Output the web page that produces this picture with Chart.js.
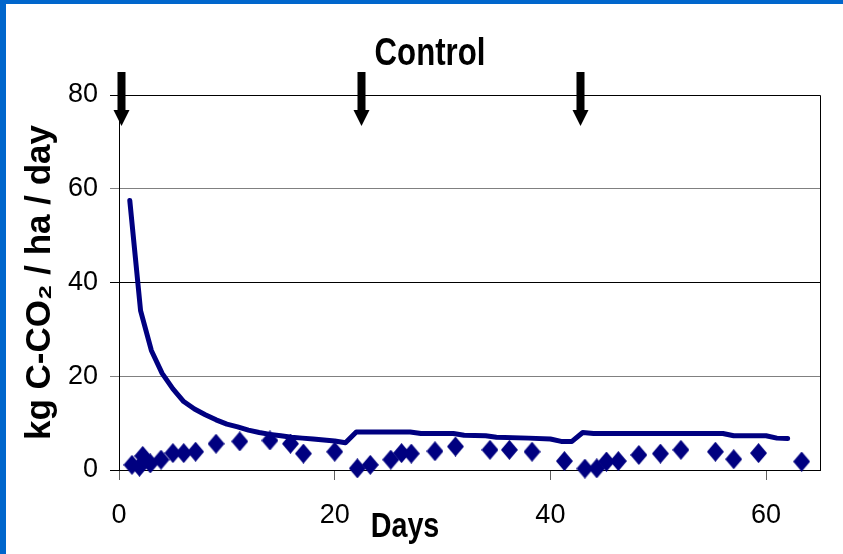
<!DOCTYPE html>
<html>
<head>
<meta charset="utf-8">
<script src="https://cdn.jsdelivr.net/npm/chart.js@4.4.1/dist/chart.umd.min.js"></script>
<style>
  html, body { margin: 0; padding: 0; background: #ffffff; }
  #frame {
    position: absolute; left: 0; top: 0; width: 843px; height: 554px;
    box-sizing: border-box; border-left: 6px solid #0066cc; border-top: 4px solid #0066cc;
    background: #ffffff;
  }
  canvas { display: block; }
</style>
</head>
<body>
<div id="frame"><canvas id="c" width="837" height="550"></canvas></div>
<script>
// ---- data ----
const chartTitle = 'Control';
const xAxisTitle = 'Days';
const yAxisTitle = 'kg C-CO\u2082 / ha / day';

const xTickValues = [0, 20, 40, 60];
const yTickValues = [0, 20, 40, 60, 80];

// modelled flux (line)
const modelDays   = [1, 2, 3, 4, 5, 6, 7, 8, 9, 10, 11, 12, 13, 14, 15, 16, 17, 18, 19, 20, 21, 22, 27, 28, 31, 32, 34, 35, 38, 40, 41, 42, 43, 44, 56, 57, 60, 61, 62];
const modelValues = [57.5, 34, 25.5, 20.6, 17.3, 14.6, 13.0, 11.8, 10.7, 9.8, 9.2, 8.5, 8.0, 7.6, 7.3, 7.0, 6.8, 6.6, 6.4, 6.2, 5.8, 8.1, 8.1, 7.8, 7.8, 7.4, 7.3, 7.0, 6.8, 6.6, 6.1, 6.1, 8.0, 7.8, 7.8, 7.3, 7.3, 6.8, 6.7];

// measured flux (diamonds)
const obsDays   = [1.2, 1.9, 2.2, 2.9, 3.9, 5.0, 6.0, 7.1, 9.0, 11.2, 14.0, 15.9, 17.1, 20.0, 22.1, 23.3, 25.2, 26.2, 27.1, 29.3, 31.2, 34.4, 36.2, 38.3, 41.3, 43.2, 44.3, 45.2, 46.3, 48.2, 50.2, 52.1, 55.3, 57.0, 59.3, 63.3];
const obsValues = [1.1, 0.7, 3.0, 1.4, 2.2, 3.6, 3.6, 3.9, 5.6, 6.1, 6.3, 5.6, 3.5, 3.9, 0.35, 1.1, 2.2, 3.6, 3.5, 4.0, 5.0, 4.3, 4.3, 3.9, 1.9, 0.3, 0.35, 1.8, 1.9, 3.2, 3.5, 4.3, 3.9, 2.3, 3.6, 1.8];

// days on which amendments were applied (arrows)
const arrowDays = [0.2, 22.4, 42.7];

// ---- styling ----
const NAVY = '#000080';
const sans = "'Liberation Sans', Arial, sans-serif";

// diamond marker (slightly taller than wide, as in the reference)
const marker = document.createElement('canvas');
marker.width = 17; marker.height = 20;
(function () {
  const m = marker.getContext('2d');
  m.fillStyle = NAVY;
  m.beginPath();
  m.moveTo(8.5, 0); m.lineTo(17, 10); m.lineTo(8.5, 20); m.lineTo(0, 10);
  m.closePath(); m.fill();
})();

function narrowText(ctx, text, cx, baseline, font) {
  ctx.save();
  ctx.translate(cx, baseline);
  ctx.scale(0.82, 1);
  ctx.font = font;
  ctx.textAlign = 'center';
  ctx.textBaseline = 'alphabetic';
  ctx.fillText(text, 0, 0);
  ctx.restore();
}

const extras = {
  id: 'extras',
  afterDatasetsDraw(chart) {
    const {ctx, chartArea: a, scales: {x, y}} = chart;
    ctx.save();
    // plot frame (top / right)
    ctx.strokeStyle = '#000000';
    ctx.lineWidth = 1;
    ctx.beginPath();
    ctx.moveTo(a.left, a.top + 0.5); ctx.lineTo(a.right + 0.5, a.top + 0.5);
    ctx.lineTo(a.right + 0.5, a.bottom);
    ctx.stroke();
    // arrows
    ctx.fillStyle = '#000000';
    const top80 = y.getPixelForValue(80);
    arrowDays.forEach(d => {
      const px = Math.round(x.getPixelForValue(d)) + 0.5;
      const sTop = top80 - 23, headTop = top80 + 15, tip = top80 + 31;
      ctx.fillRect(px - 4, sTop, 8, headTop - sTop + 1);
      ctx.beginPath();
      ctx.moveTo(px - 8, headTop); ctx.lineTo(px + 8, headTop); ctx.lineTo(px, tip);
      ctx.closePath(); ctx.fill();
    });
    ctx.fillStyle = '#000000';
    // chart title
    narrowText(ctx, chartTitle, 424, 61, 'bold 38px ' + sans);
    // x axis title
    narrowText(ctx, xAxisTitle, 399, 533, 'bold 35px ' + sans);
    ctx.restore();
  }
};

new Chart(document.getElementById('c'), {
  type: 'scatter',
  data: {
    datasets: [
      {
        label: 'Model',
        data: modelDays.map((d, i) => ({x: d, y: modelValues[i]})),
        showLine: true,
        borderColor: NAVY,
        backgroundColor: NAVY,
        borderWidth: 5,
        borderCapStyle: 'round',
        borderJoinStyle: 'round',
        pointRadius: 0,
        pointHoverRadius: 0,
        tension: 0,
        clip: false,
        order: 2
      },
      {
        label: 'Measured',
        data: obsDays.map((d, i) => ({x: d, y: obsValues[i]})),
        showLine: false,
        pointStyle: marker,
        pointRadius: 10,
        backgroundColor: NAVY,
        borderColor: NAVY,
        clip: false,
        order: 1
      }
    ]
  },
  options: {
    responsive: false,
    animation: false,
    devicePixelRatio: 1,
    layout: { padding: { left: 0, right: 23, top: 91, bottom: 0 } },
    plugins: { legend: { display: false }, tooltip: { enabled: false }, title: { display: false } },
    scales: {
      x: {
        type: 'linear',
        min: 0, max: 65,
        afterBuildTicks: axis => { axis.ticks = xTickValues.map(v => ({value: v})); },
        afterFit: s => { s.height = 84; },
        grid: { drawOnChartArea: false, drawTicks: true, tickLength: 10, tickColor: '#606060' },
        border: { display: true, color: '#000000', width: 1 },
        ticks: { color: '#000000', padding: 19, maxRotation: 0, font: { family: sans, size: 27 } },
        title: { display: false }
      },
      y: {
        type: 'linear',
        min: 0, max: 80,
        afterBuildTicks: axis => { axis.ticks = yTickValues.map(v => ({value: v})); },
        afterFit: s => { s.width = 113; },
        grid: {
          drawTicks: true, tickLength: 9,
          color: c => (c.tick && (c.tick.value === 20 || c.tick.value === 60)) ? '#808080' : '#000000',
          tickColor: c => (c.tick && (c.tick.value === 20 || c.tick.value === 60)) ? '#808080' : '#000000',
          lineWidth: 1
        },
        border: { display: true, color: '#000000', width: 1 },
        ticks: { color: '#000000', padding: 12, font: { family: sans, size: 27 } },
        title: {
          display: true, text: yAxisTitle, color: '#000000',
          font: { family: sans, size: 35, weight: 'bold' },
          padding: { top: 13, bottom: 0 }
        }
      }
    }
  },
  plugins: [extras]
});
</script>
</body>
</html>
